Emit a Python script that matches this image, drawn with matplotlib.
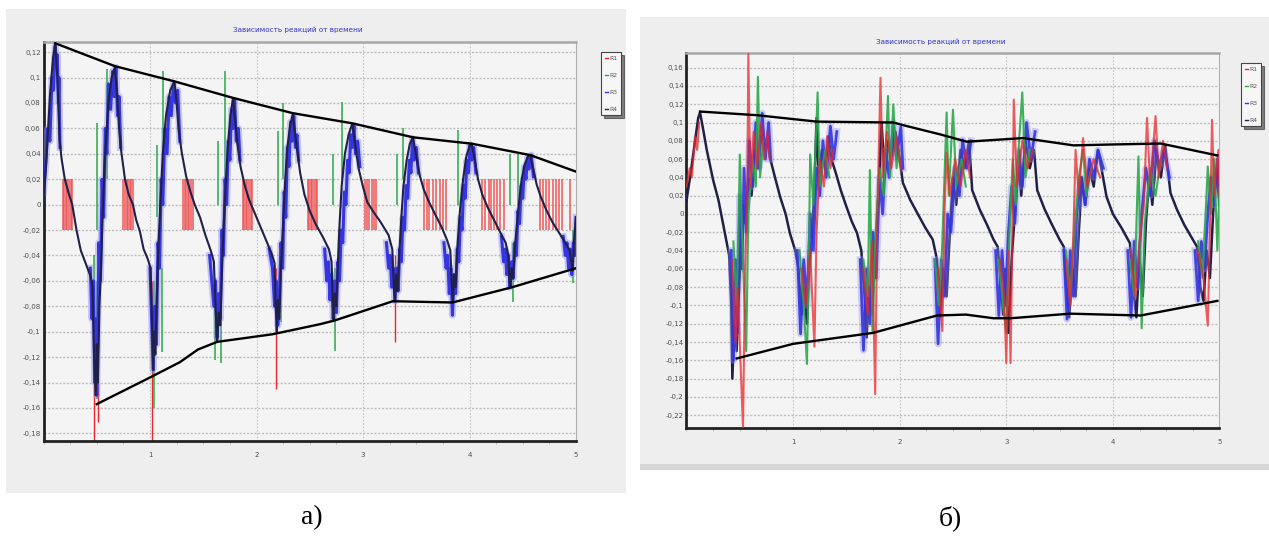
import numpy as np
import matplotlib
matplotlib.use("Agg")
import matplotlib.pyplot as plt
from matplotlib.patches import Rectangle
from matplotlib.lines import Line2D
from matplotlib.ticker import FuncFormatter, MultipleLocator

nan = np.nan

title_text = "Зависимость реакций от времени"
series_names = ["R1", "R2", "R3", "R4"]
series_colors = ["#e8282c", "#2aa84a", "#3434e0", "#202048"]

# ---------------- panel a) ----------------
a_yticks = [0.12, 0.1, 0.08, 0.06, 0.04, 0.02, 0, -0.02, -0.04, -0.06, -0.08,
            -0.1, -0.12, -0.14, -0.16, -0.18]
a_ylim = (-0.186, 0.128)

# envelopes
a_up_x = [0.11, 0.67, 1.23, 1.78, 2.34, 2.90, 3.47, 4.02, 4.57, 5.0]
a_up_y = [0.127, 0.109, 0.097, 0.084, 0.072, 0.064, 0.053, 0.048, 0.039, 0.026]
a_lo_x = [0.50, 1.00, 1.28, 1.45, 1.63, 2.15, 2.60, 2.74, 3.28, 3.84, 4.40, 5.0]
a_lo_y = [-0.157, -0.136, -0.124, -0.114, -0.108, -0.102, -0.094, -0.091,
          -0.076, -0.077, -0.065, -0.050]

# R4 - smooth trace
a_r4_x = [0.00, 0.03, 0.06, 0.09, 0.11, 0.13, 0.15, 0.17, 0.20, 0.24, 0.27, 0.31, 0.35, 0.40, 0.44, 0.46,
          0.475, 0.49, 0.50, 0.51, 0.525, 0.54, 0.555, 0.57, 0.59, 0.61, 0.64, 0.67,
          0.69, 0.71, 0.73, 0.765, 0.80, 0.84, 0.87, 0.905, 0.94, 0.98, 1.005,
          1.02, 1.03, 1.04, 1.05, 1.065, 1.08, 1.10, 1.12, 1.15, 1.19, 1.23,
          1.25, 1.27, 1.30, 1.34, 1.38, 1.42, 1.47, 1.52, 1.57, 1.60,
          1.615, 1.63, 1.645, 1.66, 1.675, 1.69, 1.71, 1.73, 1.755, 1.78,
          1.80, 1.82, 1.85, 1.89, 1.93, 1.98, 2.03, 2.09, 2.14, 2.17,
          2.18, 2.19, 2.20, 2.215, 2.23, 2.25, 2.27, 2.29, 2.315, 2.34,
          2.37, 2.41, 2.45, 2.50, 2.56, 2.62, 2.68, 2.705,
          2.715, 2.725, 2.735, 2.75, 2.765, 2.78, 2.80, 2.83, 2.865, 2.90,
          2.93, 2.96, 3.00, 3.04, 3.10, 3.16, 3.24, 3.275,
          3.29, 3.30, 3.31, 3.325, 3.34, 3.36, 3.38, 3.41, 3.44, 3.47,
          3.50, 3.53, 3.57, 3.62, 3.68, 3.74, 3.79, 3.82,
          3.835, 3.845, 3.855, 3.87, 3.885, 3.91, 3.94, 3.97, 4.00, 4.02,
          4.05, 4.08, 4.12, 4.17, 4.23, 4.29, 4.34, 4.365,
          4.375, 4.385, 4.395, 4.41, 4.43, 4.46, 4.49, 4.52, 4.55, 4.57,
          4.60, 4.63, 4.67, 4.72, 4.78, 4.84, 4.90, 4.94,
          4.955, 4.97, 4.98, 4.99, 5.00]
a_r4_y = [0.000, 0.040, 0.085, 0.116, 0.127, 0.100, 0.052, 0.036, 0.020, 0.008, 0.000, -0.020, -0.036, -0.047, -0.056, -0.064,
          -0.120, -0.150, -0.110, -0.140, -0.080, -0.050, -0.010, 0.025, 0.055, 0.080, 0.100, 0.108,
          0.088, 0.060, 0.042, 0.020, 0.008, 0.000, -0.012, -0.021, -0.035, -0.043, -0.050,
          -0.095, -0.130, -0.100, -0.118, -0.070, -0.030, 0.005, 0.040, 0.070, 0.090, 0.097,
          0.080, 0.058, 0.040, 0.022, 0.010, 0.000, -0.010, -0.024, -0.036, -0.045,
          -0.080, -0.108, -0.085, -0.095, -0.055, -0.020, 0.015, 0.045, 0.070, 0.084,
          0.066, 0.048, 0.030, 0.015, 0.004, -0.006, -0.016, -0.028, -0.038, -0.046,
          -0.080, -0.100, -0.075, -0.090, -0.050, -0.015, 0.020, 0.045, 0.062, 0.071,
          0.050, 0.025, 0.008, -0.005, -0.016, -0.025, -0.035, -0.045,
          -0.075, -0.090, -0.070, -0.080, -0.045, -0.015, 0.015, 0.040, 0.055, 0.064,
          0.045, 0.028, 0.014, 0.002, -0.006, -0.013, -0.024, -0.035,
          -0.065, -0.076, -0.055, -0.068, -0.040, -0.010, 0.015, 0.035, 0.048, 0.053,
          0.038, 0.024, 0.012, 0.002, -0.008, -0.018, -0.028, -0.036,
          -0.065, -0.077, -0.055, -0.065, -0.035, -0.005, 0.020, 0.038, 0.046, 0.048,
          0.035, 0.020, 0.008, -0.002, -0.012, -0.022, -0.030, -0.040,
          -0.060, -0.065, -0.050, -0.058, -0.030, -0.002, 0.020, 0.032, 0.038, 0.039,
          0.028, 0.016, 0.006, -0.004, -0.014, -0.022, -0.030, -0.036,
          -0.045, -0.052, -0.030, -0.018, -0.010]

# R3 - noisy bursts around the troughs and peaks
a_r3_x = [0.00, 0.02, 0.04, 0.06, 0.08, 0.095, 0.11, 0.12, 0.13, 0.14, 0.145, 0.155, nan,
          0.44, 0.455, 0.47, 0.48, 0.49, 0.50, 0.51, 0.52, 0.535, 0.55, 0.565, 0.58, 0.595, 0.61, 0.63, 0.65, 0.665, 0.68, 0.695, 0.71, 0.725, nan,
          1.00, 1.015, 1.03, 1.045, 1.06, 1.075, 1.09, 1.105, 1.12, 1.14, 1.16, 1.18, 1.20, 1.22, 1.24, 1.26, 1.28, nan,
          1.56, 1.58, 1.60, 1.615, 1.63, 1.645, 1.66, 1.675, 1.69, 1.705, 1.72, 1.735, 1.75, 1.765, 1.78, 1.795, 1.81, 1.83, 1.845, nan,
          2.12, 2.15, 2.17, 2.185, 2.20, 2.215, 2.23, 2.245, 2.26, 2.275, 2.29, 2.305, 2.32, 2.335, 2.35, 2.365, 2.38, 2.395, nan,
          2.64, 2.66, 2.675, 2.69, 2.705, 2.72, 2.735, 2.75, 2.765, 2.78, 2.795, 2.81, 2.825, 2.84, 2.855, 2.87, 2.885, 2.90, 2.915, 2.93, 2.95, 2.97, nan,
          3.22, 3.24, 3.255, 3.27, 3.285, 3.30, 3.315, 3.33, 3.345, 3.36, 3.375, 3.39, 3.405, 3.42, 3.435, 3.45, 3.465, 3.48, 3.50, 3.52, nan,
          3.76, 3.78, 3.795, 3.81, 3.825, 3.84, 3.855, 3.87, 3.885, 3.90, 3.915, 3.93, 3.945, 3.96, 3.975, 3.99, 4.005, 4.02, 4.04, 4.06, nan,
          4.30, 4.32, 4.335, 4.35, 4.365, 4.38, 4.395, 4.41, 4.425, 4.44, 4.455, 4.47, 4.485, 4.50, 4.515, 4.53, 4.545, 4.56, 4.58, 4.60, nan,
          4.88, 4.90, 4.915, 4.93, 4.945, 4.96, 4.975, 4.99, 5.00]
a_r3_y = [0.010, 0.030, 0.060, 0.050, 0.100, 0.090, 0.125, 0.110, 0.118, 0.080, 0.100, 0.045, nan,
          -0.050, -0.090, -0.060, -0.140, -0.090, -0.150, -0.100, -0.030, -0.060, 0.020, -0.010, 0.060, 0.040, 0.095, 0.075, 0.105, 0.085, 0.108, 0.070, 0.085, 0.045, nan,
          -0.050, -0.090, -0.130, -0.080, -0.110, -0.030, -0.050, 0.020, 0.000, 0.060, 0.040, 0.085, 0.070, 0.095, 0.080, 0.090, 0.050, nan,
          -0.040, -0.060, -0.080, -0.060, -0.105, -0.070, -0.090, -0.020, -0.040, 0.020, 0.000, 0.050, 0.035, 0.075, 0.060, 0.082, 0.050, 0.060, 0.035, nan,
          -0.035, -0.050, -0.080, -0.060, -0.095, -0.070, -0.030, -0.050, 0.010, -0.010, 0.045, 0.030, 0.065, 0.050, 0.070, 0.045, 0.055, 0.035, nan,
          -0.035, -0.060, -0.045, -0.075, -0.055, -0.090, -0.060, -0.085, -0.045, -0.060, -0.020, -0.030, 0.010, 0.000, 0.035, 0.025, 0.055, 0.045, 0.062, 0.040, 0.050, 0.030, nan,
          -0.030, -0.050, -0.040, -0.065, -0.050, -0.076, -0.050, -0.068, -0.035, -0.045, -0.010, -0.020, 0.015, 0.005, 0.035, 0.025, 0.052, 0.035, 0.045, 0.025, nan,
          -0.030, -0.050, -0.040, -0.070, -0.050, -0.087, -0.055, -0.070, -0.035, -0.045, -0.010, -0.020, 0.015, 0.005, 0.035, 0.025, 0.047, 0.035, 0.045, 0.025, nan,
          -0.025, -0.045, -0.035, -0.055, -0.040, -0.065, -0.045, -0.058, -0.030, -0.040, -0.005, -0.015, 0.015, 0.005, 0.030, 0.020, 0.037, 0.028, 0.039, 0.022, nan,
          -0.025, -0.040, -0.030, -0.050, -0.035, -0.055, -0.030, -0.040, -0.010]

# R2 - sharp spikes (x, start, tip)
a_r2_x = [0.47, 0.505, 0.50, 0.596, 1.035, 1.11, 1.066, 1.12, 1.61, 1.665, 1.64, 1.70,
          2.23, 2.20, 2.25, 2.74, 2.72, 2.80, 3.32, 3.38, 3.89, 4.41, 4.38, 4.455, 4.97]
a_r2_lo = [-0.04, -0.06, -0.02, 0.02, -0.06, -0.05, -0.01, 0.02, -0.06, -0.05, 0.00, 0.02,
           -0.04, 0.00, 0.02, -0.05, 0.00, 0.02, 0.00, 0.02, 0.00, -0.03, 0.00, 0.00, -0.02]
a_r2_hi = [-0.140, -0.153, 0.064, 0.107, -0.160, -0.116, 0.047, 0.105, -0.122, -0.125, 0.050, 0.105,
           -0.092, 0.058, 0.080, -0.115, 0.040, 0.081, 0.040, 0.060, 0.059, -0.077, 0.040, 0.040, -0.062]

# R1 - switching between +-0.02 and spikes at troughs
a_r1_level = 0.02
a_r1_bars = [0.18, 0.195, 0.21, 0.225, 0.24, 0.255, 0.27,
             0.75, 0.765, 0.78, 0.795, 0.81, 0.825, 0.84,
             1.31, 1.325, 1.34, 1.355, 1.37, 1.385, 1.40,
             1.87, 1.885, 1.90, 1.915, 1.93, 1.945, 1.96,
             2.48, 2.495, 2.51, 2.525, 2.54, 2.555, 2.57,
             3.02, 3.04, 3.06, 3.08, 3.10, 3.12,
             3.57, 3.60, 3.62, 3.66, 3.69, 3.72, 3.75, 3.78,
             4.12, 4.15, 4.18, 4.20, 4.23, 4.26, 4.29, 4.32,
             4.66, 4.69, 4.72, 4.75, 4.78, 4.81, 4.84, 4.87, 4.94]
a_r1_spike_x = [0.47, 0.51, 1.02, 2.18, 3.30]
a_r1_spike_lo = [-0.06, -0.08, -0.06, -0.05, -0.04]
a_r1_spike_hi = [-0.186, -0.171, -0.186, -0.145, -0.108]

# ---------------- panel б) ----------------
b_yticks = [0.16, 0.14, 0.12, 0.1, 0.08, 0.06, 0.04, 0.02, 0, -0.02, -0.04, -0.06,
            -0.08, -0.1, -0.12, -0.14, -0.16, -0.18, -0.2, -0.22]
b_ylim = (-0.234, 0.176)

b_up_x = [0.127, 0.66, 1.22, 1.94, 2.07, 2.38, 2.63, 3.16, 3.63, 4.00, 4.45, 4.98]
b_up_y = [0.112, 0.108, 0.101, 0.100, 0.096, 0.087, 0.079, 0.083, 0.075, 0.076, 0.077, 0.064]
b_lo_x = [0.47, 1.00, 1.75, 2.35, 2.62, 2.88, 3.04, 3.60, 4.26, 4.98]
b_lo_y = [-0.158, -0.142, -0.130, -0.111, -0.110, -0.114, -0.114, -0.109, -0.111, -0.095]

b_r4_x = [0.00, 0.04, 0.08, 0.11, 0.127, 0.16, 0.19, 0.25, 0.30, 0.36, 0.40,
          0.42, 0.43, 0.45, 0.47, 0.49, 0.51, 0.53, 0.55, 0.58, 0.61, 0.64, 0.67, 0.70, 0.73, 0.76, 0.78,
          0.83, 0.88, 0.93, 0.97, 1.02, 1.05,
          1.08, 1.10, 1.13, 1.15, 1.18, 1.20, 1.22, 1.24, 1.27, 1.30, 1.33, 1.36, 1.40,
          1.45, 1.50, 1.55, 1.60, 1.64,
          1.67, 1.69, 1.71, 1.74, 1.77, 1.80, 1.83, 1.86, 1.89, 1.92, 1.96, 2.00, 2.03,
          2.10, 2.17, 2.24, 2.31, 2.35,
          2.38, 2.41, 2.44, 2.47, 2.50, 2.53, 2.57, 2.61, 2.65, 2.68,
          2.75, 2.82, 2.88, 2.92,
          2.95, 2.97, 2.99, 3.02, 3.05, 3.08, 3.11, 3.14, 3.18, 3.22, 3.26, 3.29,
          3.36, 3.43, 3.50, 3.54,
          3.57, 3.59, 3.62, 3.65, 3.68, 3.71, 3.74, 3.78, 3.82, 3.86, 3.90, 3.94,
          4.00, 4.08, 4.16,
          4.19, 4.22, 4.25, 4.28, 4.31, 4.34, 4.37, 4.41, 4.45, 4.49, 4.54,
          4.60, 4.67, 4.74, 4.79,
          4.82, 4.85, 4.88, 4.91, 4.94, 4.97, 5.00]
b_r4_y = [0.015, 0.045, 0.080, 0.105, 0.111, 0.090, 0.070, 0.037, 0.015, -0.021, -0.045,
          -0.100, -0.180, -0.120, -0.150, -0.090, -0.040, 0.010, -0.010, 0.040, 0.020, 0.070, 0.050, 0.095, 0.070, 0.085, 0.063,
          0.040, 0.018, 0.000, -0.021, -0.040, -0.060,
          -0.110, -0.080, -0.120, -0.060, -0.020, 0.030, 0.105, 0.040, 0.070, 0.050, 0.085, 0.060, 0.045,
          0.025, 0.008, -0.008, -0.021, -0.040,
          -0.090, -0.135, -0.080, -0.110, -0.040, 0.020, 0.100, 0.040, 0.080, 0.060, 0.090, 0.060, 0.034,
          0.015, 0.000, -0.015, -0.028, -0.050,
          -0.113, -0.060, -0.090, -0.020, 0.040, 0.010, 0.070, 0.050, 0.080, 0.026,
          0.005, -0.012, -0.028, -0.036,
          -0.080, -0.110, -0.060, -0.130, -0.050, 0.000, 0.060, 0.020, 0.080, 0.050, 0.070, 0.026,
          0.005, -0.012, -0.028, -0.036,
          -0.090, -0.113, -0.060, -0.090, -0.020, 0.040, 0.010, 0.050, 0.030, 0.070, 0.045, 0.019,
          0.000, -0.015, -0.032,
          -0.080, -0.113, -0.050, -0.090, -0.010, 0.040, 0.010, 0.070, 0.040, 0.075, 0.023,
          0.005, -0.012, -0.026, -0.036,
          -0.080, -0.095, -0.040, -0.070, 0.000, 0.050, 0.010]

b_r3_x = [0.42, 0.44, 0.46, 0.48, 0.50, 0.52, 0.54, 0.56, 0.59, 0.62, 0.65, 0.68, 0.71, 0.74, 0.77, 0.79, nan,
          1.04, 1.07, 1.10, 1.13, 1.16, 1.19, 1.22, 1.25, 1.28, 1.31, 1.35, 1.38, 1.41, nan,
          1.63, 1.66, 1.69, 1.72, 1.75, 1.78, 1.81, 1.84, 1.87, 1.90, 1.94, 1.97, 2.01, 2.03, nan,
          2.33, 2.36, 2.39, 2.42, 2.45, 2.48, 2.52, 2.56, 2.59, 2.63, 2.67, nan,
          2.90, 2.93, 2.96, 2.99, 3.02, 3.05, 3.08, 3.12, 3.15, 3.19, 3.23, 3.27, nan,
          3.54, 3.57, 3.60, 3.63, 3.66, 3.70, 3.74, 3.78, 3.82, 3.86, 3.91, nan,
          4.14, 4.17, 4.20, 4.23, 4.27, 4.31, 4.35, 4.39, 4.43, 4.48, 4.53, nan,
          4.77, 4.80, 4.83, 4.86, 4.89, 4.92, 4.95, 4.98, 5.00]
b_r3_y = [-0.040, -0.160, -0.050, -0.130, 0.020, -0.060, 0.050, -0.020, 0.080, 0.030, 0.100, 0.050, 0.110, 0.060, 0.100, 0.060, nan,
          -0.040, -0.131, -0.050, -0.100, 0.000, -0.040, 0.050, 0.020, 0.080, 0.040, 0.096, 0.060, 0.090, nan,
          -0.050, -0.149, -0.060, -0.120, -0.020, -0.070, 0.040, 0.000, 0.070, 0.040, 0.100, 0.060, 0.095, 0.050, nan,
          -0.050, -0.142, -0.050, -0.090, 0.000, -0.020, 0.050, 0.020, 0.081, 0.050, 0.080, nan,
          -0.040, -0.111, -0.040, -0.100, -0.020, 0.030, -0.010, 0.070, 0.030, 0.100, 0.060, 0.090, nan,
          -0.040, -0.115, -0.040, -0.090, 0.000, 0.040, 0.010, 0.060, 0.040, 0.070, 0.050, nan,
          -0.040, -0.113, -0.030, -0.080, 0.000, 0.050, 0.020, 0.080, 0.050, 0.070, 0.040, nan,
          -0.040, -0.095, -0.030, -0.060, 0.000, 0.040, 0.010, 0.060, 0.030]

b_r2_x = [0.44, 0.47, 0.49, 0.50, 0.52, 0.56, 0.58, 0.62, 0.65, 0.67, 0.69, 0.72, nan,
          1.06, 1.10, 1.13, 1.15, 1.16, 1.19, 1.23, 1.25, 1.30, 1.34, nan,
          1.66, 1.70, 1.72, 1.745, 1.77, 1.81, 1.85, 1.89, 1.91, 1.94, 1.97, 2.00, nan,
          2.33, 2.37, 2.40, 2.44, 2.46, 2.50, 2.53, 2.58, 2.62, nan,
          2.93, 2.97, 3.00, 3.03, 3.06, 3.09, 3.12, 3.15, 3.18, 3.22, nan,
          3.56, 3.60, 3.64, 3.68, 3.72, 3.75, 3.80, nan,
          4.16, 4.20, 4.24, 4.27, 4.30, 4.35, 4.40, 4.45, nan,
          4.80, 4.84, 4.87, 4.89, 4.92, 4.95, 4.98, 5.00]
b_r2_y = [-0.030, -0.100, 0.000, 0.065, -0.020, -0.150, 0.000, 0.060, 0.030, 0.150, 0.040, 0.080, nan,
          -0.040, -0.100, -0.164, -0.030, 0.065, 0.010, 0.133, 0.030, 0.070, 0.040, nan,
          -0.050, -0.090, 0.048, -0.130, -0.030, 0.050, 0.020, 0.129, 0.040, 0.120, 0.050, 0.070, nan,
          -0.050, -0.100, -0.030, 0.111, 0.020, 0.114, 0.030, 0.060, 0.030, nan,
          -0.050, -0.100, -0.130, -0.020, 0.060, 0.010, 0.080, 0.133, 0.040, 0.070, nan,
          -0.040, -0.090, -0.020, 0.040, 0.070, 0.020, 0.050, nan,
          -0.050, -0.090, 0.063, -0.125, -0.010, 0.050, 0.020, 0.060, nan,
          -0.030, -0.070, 0.000, 0.052, 0.000, 0.060, -0.040, 0.030]

b_r1_x = [0.00, 0.03, 0.05, 0.08, 0.10, 0.12, nan,
          0.43, 0.46, 0.48, 0.53, 0.55, 0.57, 0.58, 0.60, 0.63, 0.66, 0.70, 0.73, 0.76, 0.78, nan,
          1.08, 1.12, 1.16, 1.20, 1.22, 1.25, 1.29, 1.32, 1.35, 1.38, nan,
          1.66, 1.70, 1.74, 1.77, 1.79, 1.82, 1.84, 1.88, 1.92, 1.97, 2.01, nan,
          2.36, 2.40, 2.42, 2.44, 2.47, 2.52, 2.57, 2.62, 2.66, nan,
          2.94, 2.98, 3.00, 3.02, 3.04, 3.06, 3.07, 3.10, 3.15, 3.20, 3.25, nan,
          3.56, 3.60, 3.63, 3.65, 3.68, 3.72, 3.76, 3.82, 3.88, nan,
          4.17, 4.21, 4.25, 4.29, 4.32, 4.35, 4.40, 4.43, 4.47, 4.51, nan,
          4.80, 4.85, 4.89, 4.91, 4.93, 4.95, 4.97, 4.99, 5.00]
b_r1_y = [0.030, 0.050, 0.040, 0.085, 0.070, 0.100, nan,
          -0.050, -0.140, -0.080, -0.234, -0.060, 0.020, 0.175, 0.030, 0.090, 0.050, 0.100, 0.060, 0.090, 0.060, nan,
          -0.060, -0.100, -0.040, -0.145, -0.020, 0.060, 0.030, 0.085, 0.050, 0.070, nan,
          -0.060, -0.110, -0.030, -0.197, 0.000, 0.149, 0.040, 0.090, 0.050, 0.085, 0.050, nan,
          -0.060, -0.128, 0.000, 0.067, 0.020, 0.060, 0.030, 0.070, 0.040, nan,
          -0.050, -0.090, -0.163, -0.040, -0.163, 0.000, 0.125, 0.030, 0.080, 0.050, 0.070, nan,
          -0.050, -0.100, -0.020, 0.070, 0.020, 0.083, 0.030, 0.060, 0.040, nan,
          -0.040, -0.090, -0.030, 0.010, 0.105, 0.030, 0.107, 0.040, 0.080, 0.050, nan,
          -0.040, -0.070, -0.122, -0.020, 0.103, 0.020, 0.050, 0.070, 0.020]


def comma_fmt(v, pos):
    s = "%g" % round(v, 3)
    if s == "-0":
        s = "0"
    return s.replace(".", ",")


def style_axes(ax, yticks, ylim):
    ax.set_facecolor("#f4f4f4")
    ax.set_xlim(0, 5)
    ax.set_ylim(*ylim)
    ax.set_yticks(yticks)
    ax.set_xticks([1, 2, 3, 4, 5])
    ax.xaxis.set_minor_locator(MultipleLocator(0.25))
    ax.yaxis.set_major_formatter(FuncFormatter(comma_fmt))
    ax.tick_params(axis="y", length=0, pad=2, labelsize=5.0, labelcolor="#505050")
    ax.tick_params(axis="x", which="major", length=0, pad=8, labelsize=5.0, labelcolor="#505050")
    ax.tick_params(axis="x", which="minor", length=2.5, width=0.6, color="#b0b0b0", direction="out")
    ax.grid(True, axis="y", color="#bcbcbc", lw=1.0, ls=(0, (1.5, 1.2)), zorder=0)
    for xv in [1, 2, 3, 4]:
        ax.axvline(xv, color="#c4c4c4", lw=0.8, ls=(0, (1.5, 1.5)), zorder=0)
    ax.set_axisbelow(True)
    ax.spines["left"].set_linewidth(2.0)
    ax.spines["left"].set_color("#222222")
    ax.spines["bottom"].set_linewidth(2.0)
    ax.spines["bottom"].set_color("#222222")
    ax.spines["top"].set_linewidth(1.8)
    ax.spines["top"].set_color("#a8a8a8")
    ax.spines["right"].set_linewidth(0.8)
    ax.spines["right"].set_color("#b0b0b0")


def add_legend(ax, fig, x, y):
    handles = [Line2D([], [], color=c, lw=1.0) for c in series_colors]
    leg = ax.legend(handles, series_names, loc="upper left", bbox_to_anchor=(x, y),
                    bbox_transform=fig.transFigure, fontsize=4.4, handlelength=0.5,
                    handletextpad=0.3, borderpad=0.6, labelspacing=1.9,
                    frameon=True, fancybox=False, shadow={"color": "#111111"},
                    edgecolor="#444444", facecolor="#f6f6f6", framealpha=1)
    leg.get_frame().set_linewidth(0.8)
    for t in leg.get_texts():
        t.set_color("#555555")


fig = plt.figure(figsize=(12.69, 5.4), dpi=100)
W, H = 1269.0, 540.0

# grey window backgrounds
fig.add_artist(Rectangle((6 / W, 1 - 493 / H), 620 / W, 484 / H, transform=fig.transFigure,
                         facecolor="#eeeeee", edgecolor="none", zorder=-2))
fig.add_artist(Rectangle((640 / W, 1 - 465 / H), 629 / W, 448 / H, transform=fig.transFigure,
                         facecolor="#eeeeee", edgecolor="none", zorder=-2))
fig.add_artist(Rectangle((640 / W, 1 - 470 / H), 629 / W, 6 / H, transform=fig.transFigure,
                         facecolor="#d6d6d6", edgecolor="none", zorder=-2))

ax_a = fig.add_axes([43.5 / W, 1 - 441 / H, 532.5 / W, 399 / H])
ax_b = fig.add_axes([686.5 / W, 1 - 428 / H, 533 / W, 375 / H])

style_axes(ax_a, a_yticks, a_ylim)
style_axes(ax_b, b_yticks, b_ylim)

# panel a
ax_a.vlines(a_r1_bars, -a_r1_level, a_r1_level, color="#ee5050", lw=1.4, alpha=0.75, zorder=2)
ax_a.vlines(a_r1_spike_x, a_r1_spike_lo, a_r1_spike_hi, color=series_colors[0], lw=1.0, zorder=2)
ax_a.vlines(a_r2_x, a_r2_lo, a_r2_hi, color=series_colors[1], lw=1.1, zorder=3)
ax_a.plot(a_r3_x, a_r3_y, color="#8f8ff0", lw=5.0, alpha=0.45, zorder=3)
ax_a.plot(a_r3_x, a_r3_y, color=series_colors[2], lw=2.2, zorder=4)
ax_a.plot(a_r4_x, a_r4_y, color=series_colors[3], lw=1.5, zorder=5)
ax_a.plot(a_up_x, a_up_y, color="black", lw=1.7, zorder=6)
ax_a.plot(a_lo_x, a_lo_y, color="black", lw=1.7, zorder=6)

# panel b
ax_b.plot(b_r4_x, b_r4_y, color=series_colors[3], lw=1.8, zorder=3)
ax_b.plot(b_r3_x, b_r3_y, color="#9090f0", lw=5.0, alpha=0.4, zorder=3)
ax_b.plot(b_r3_x, b_r3_y, color=series_colors[2], lw=2.0, alpha=0.9, zorder=4)
ax_b.plot(b_r2_x, b_r2_y, color=series_colors[1], lw=1.5, alpha=0.9, zorder=4)
ax_b.plot(b_r1_x, b_r1_y, color=series_colors[0], lw=1.5, alpha=0.75, zorder=5)
ax_b.plot(b_up_x, b_up_y, color="black", lw=1.7, zorder=6)
ax_b.plot(b_lo_x, b_lo_y, color="black", lw=1.7, zorder=6)

fig.text(298 / W, 1 - 30 / H, title_text, ha="center", va="center", fontsize=5.2, color="#3434c8")
fig.text(941 / W, 1 - 42 / H, title_text, ha="center", va="center", fontsize=5.2, color="#3434c8")

add_legend(ax_a, fig, 598 / W, 1 - 49 / H)
add_legend(ax_b, fig, 1238 / W, 1 - 60 / H)

fig.text(312 / W, 1 - 518 / H, "а)", ha="center", va="center", fontsize=20,
         family="Liberation Serif", color="black")
fig.text(950 / W, 1 - 518 / H, "б)", ha="center", va="center", fontsize=20,
         family="Liberation Serif", color="black")

fig.savefig("out.png", dpi=100)
